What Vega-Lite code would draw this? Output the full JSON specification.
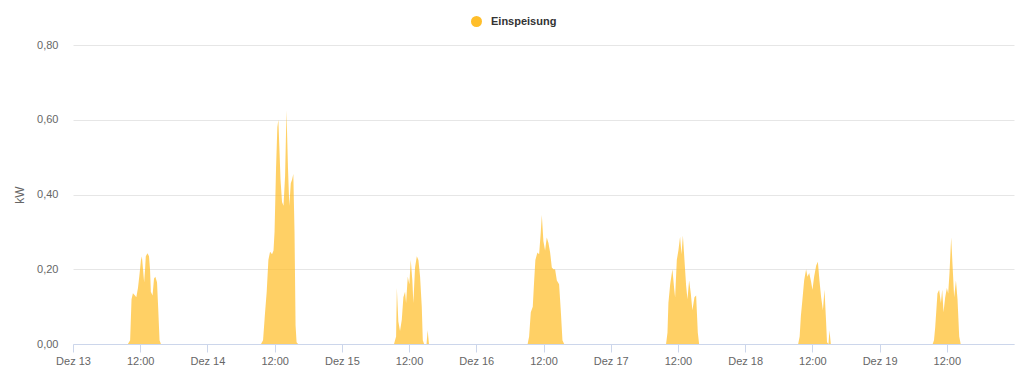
{
  "$schema": "https://vega.github.io/schema/vega-lite/v6.json",
  "width": 941,
  "height": 299,
  "autosize": {"type": "none"},
  "padding": {"left": 73, "top": 45, "right": 10, "bottom": 35},
  "background": "white",
  "config": {"view": {"stroke": null}, "font": "Liberation Sans"},
  "data": {"values": [
    {"t": "2019-12-13T00:00", "v": 0},
    {"t": "2019-12-13T09:48", "v": 0},
    {"t": "2019-12-13T10:12", "v": 0.01},
    {"t": "2019-12-13T10:27", "v": 0.12},
    {"t": "2019-12-13T10:42", "v": 0.136},
    {"t": "2019-12-13T11:04", "v": 0.13},
    {"t": "2019-12-13T11:18", "v": 0.125},
    {"t": "2019-12-13T11:36", "v": 0.15},
    {"t": "2019-12-13T11:54", "v": 0.19},
    {"t": "2019-12-13T12:08", "v": 0.225},
    {"t": "2019-12-13T12:18", "v": 0.234},
    {"t": "2019-12-13T12:30", "v": 0.2},
    {"t": "2019-12-13T12:42", "v": 0.165},
    {"t": "2019-12-13T12:52", "v": 0.2},
    {"t": "2019-12-13T13:00", "v": 0.235},
    {"t": "2019-12-13T13:18", "v": 0.243},
    {"t": "2019-12-13T13:34", "v": 0.235},
    {"t": "2019-12-13T13:45", "v": 0.2},
    {"t": "2019-12-13T13:54", "v": 0.14},
    {"t": "2019-12-13T14:12", "v": 0.13},
    {"t": "2019-12-13T14:28", "v": 0.175},
    {"t": "2019-12-13T14:42", "v": 0.18},
    {"t": "2019-12-13T15:00", "v": 0.165},
    {"t": "2019-12-13T15:12", "v": 0.1},
    {"t": "2019-12-13T15:27", "v": 0.01},
    {"t": "2019-12-13T15:42", "v": 0},
    {"t": "2019-12-14T09:34", "v": 0},
    {"t": "2019-12-14T09:56", "v": 0.01},
    {"t": "2019-12-14T10:17", "v": 0.083},
    {"t": "2019-12-14T10:35", "v": 0.14},
    {"t": "2019-12-14T10:53", "v": 0.225},
    {"t": "2019-12-14T11:11", "v": 0.247},
    {"t": "2019-12-14T11:32", "v": 0.24},
    {"t": "2019-12-14T11:48", "v": 0.25},
    {"t": "2019-12-14T11:59", "v": 0.3},
    {"t": "2019-12-14T12:15", "v": 0.47},
    {"t": "2019-12-14T12:29", "v": 0.58},
    {"t": "2019-12-14T12:40", "v": 0.6},
    {"t": "2019-12-14T12:50", "v": 0.53},
    {"t": "2019-12-14T13:03", "v": 0.44},
    {"t": "2019-12-14T13:19", "v": 0.38},
    {"t": "2019-12-14T13:35", "v": 0.37},
    {"t": "2019-12-14T13:52", "v": 0.45},
    {"t": "2019-12-14T14:07", "v": 0.625},
    {"t": "2019-12-14T14:23", "v": 0.47},
    {"t": "2019-12-14T14:37", "v": 0.37},
    {"t": "2019-12-14T14:53", "v": 0.43},
    {"t": "2019-12-14T15:07", "v": 0.44},
    {"t": "2019-12-14T15:20", "v": 0.455},
    {"t": "2019-12-14T15:33", "v": 0.3},
    {"t": "2019-12-14T15:44", "v": 0.05},
    {"t": "2019-12-14T15:55", "v": 0.005},
    {"t": "2019-12-14T16:11", "v": 0},
    {"t": "2019-12-15T09:19", "v": 0},
    {"t": "2019-12-15T09:41", "v": 0.02},
    {"t": "2019-12-15T09:49", "v": 0.15},
    {"t": "2019-12-15T10:05", "v": 0.06},
    {"t": "2019-12-15T10:23", "v": 0.035},
    {"t": "2019-12-15T10:42", "v": 0.065},
    {"t": "2019-12-15T10:59", "v": 0.125},
    {"t": "2019-12-15T11:17", "v": 0.14},
    {"t": "2019-12-15T11:28", "v": 0.11},
    {"t": "2019-12-15T11:46", "v": 0.18},
    {"t": "2019-12-15T12:03", "v": 0.16},
    {"t": "2019-12-15T12:18", "v": 0.225},
    {"t": "2019-12-15T12:35", "v": 0.17},
    {"t": "2019-12-15T12:46", "v": 0.11},
    {"t": "2019-12-15T13:04", "v": 0.205},
    {"t": "2019-12-15T13:23", "v": 0.235},
    {"t": "2019-12-15T13:40", "v": 0.225},
    {"t": "2019-12-15T13:58", "v": 0.18},
    {"t": "2019-12-15T14:16", "v": 0.1},
    {"t": "2019-12-15T14:27", "v": 0.01},
    {"t": "2019-12-15T14:41", "v": 0},
    {"t": "2019-12-15T15:07", "v": 0},
    {"t": "2019-12-15T15:19", "v": 0.037},
    {"t": "2019-12-15T15:33", "v": 0},
    {"t": "2019-12-16T09:10", "v": 0},
    {"t": "2019-12-16T09:26", "v": 0.02},
    {"t": "2019-12-16T09:44", "v": 0.085},
    {"t": "2019-12-16T10:05", "v": 0.1},
    {"t": "2019-12-16T10:19", "v": 0.165},
    {"t": "2019-12-16T10:33", "v": 0.225},
    {"t": "2019-12-16T10:55", "v": 0.245},
    {"t": "2019-12-16T11:13", "v": 0.24},
    {"t": "2019-12-16T11:31", "v": 0.3},
    {"t": "2019-12-16T11:42", "v": 0.345},
    {"t": "2019-12-16T11:59", "v": 0.275},
    {"t": "2019-12-16T12:17", "v": 0.25},
    {"t": "2019-12-16T12:35", "v": 0.285},
    {"t": "2019-12-16T12:53", "v": 0.27},
    {"t": "2019-12-16T13:11", "v": 0.245},
    {"t": "2019-12-16T13:29", "v": 0.205},
    {"t": "2019-12-16T13:46", "v": 0.2},
    {"t": "2019-12-16T14:04", "v": 0.2},
    {"t": "2019-12-16T14:23", "v": 0.17},
    {"t": "2019-12-16T14:47", "v": 0.16},
    {"t": "2019-12-16T15:05", "v": 0.09},
    {"t": "2019-12-16T15:23", "v": 0.01},
    {"t": "2019-12-16T15:41", "v": 0},
    {"t": "2019-12-17T09:53", "v": 0},
    {"t": "2019-12-17T10:08", "v": 0.03},
    {"t": "2019-12-17T10:18", "v": 0.11},
    {"t": "2019-12-17T10:37", "v": 0.16},
    {"t": "2019-12-17T11:01", "v": 0.2},
    {"t": "2019-12-17T11:19", "v": 0.15},
    {"t": "2019-12-17T11:30", "v": 0.125},
    {"t": "2019-12-17T11:48", "v": 0.225},
    {"t": "2019-12-17T12:05", "v": 0.25},
    {"t": "2019-12-17T12:23", "v": 0.287},
    {"t": "2019-12-17T12:38", "v": 0.24},
    {"t": "2019-12-17T12:53", "v": 0.29},
    {"t": "2019-12-17T13:10", "v": 0.225},
    {"t": "2019-12-17T13:28", "v": 0.155},
    {"t": "2019-12-17T13:42", "v": 0.12},
    {"t": "2019-12-17T14:00", "v": 0.17},
    {"t": "2019-12-17T14:18", "v": 0.135},
    {"t": "2019-12-17T14:35", "v": 0.09},
    {"t": "2019-12-17T14:57", "v": 0.125},
    {"t": "2019-12-17T15:15", "v": 0.13},
    {"t": "2019-12-17T15:33", "v": 0.03},
    {"t": "2019-12-17T15:47", "v": 0},
    {"t": "2019-12-18T09:28", "v": 0},
    {"t": "2019-12-18T09:44", "v": 0.02},
    {"t": "2019-12-18T09:57", "v": 0.075},
    {"t": "2019-12-18T10:14", "v": 0.12},
    {"t": "2019-12-18T10:32", "v": 0.17},
    {"t": "2019-12-18T10:53", "v": 0.2},
    {"t": "2019-12-18T11:08", "v": 0.18},
    {"t": "2019-12-18T11:26", "v": 0.19},
    {"t": "2019-12-18T11:44", "v": 0.17},
    {"t": "2019-12-18T12:01", "v": 0.145},
    {"t": "2019-12-18T12:19", "v": 0.18},
    {"t": "2019-12-18T12:41", "v": 0.21},
    {"t": "2019-12-18T12:59", "v": 0.22},
    {"t": "2019-12-18T13:16", "v": 0.17},
    {"t": "2019-12-18T13:34", "v": 0.125},
    {"t": "2019-12-18T13:53", "v": 0.09},
    {"t": "2019-12-18T14:10", "v": 0.145},
    {"t": "2019-12-18T14:25", "v": 0.07},
    {"t": "2019-12-18T14:37", "v": 0.005},
    {"t": "2019-12-18T14:53", "v": 0},
    {"t": "2019-12-18T15:03", "v": 0.037},
    {"t": "2019-12-18T15:18", "v": 0},
    {"t": "2019-12-19T09:29", "v": 0},
    {"t": "2019-12-19T09:43", "v": 0.01},
    {"t": "2019-12-19T09:56", "v": 0.045},
    {"t": "2019-12-19T10:20", "v": 0.135},
    {"t": "2019-12-19T10:38", "v": 0.145},
    {"t": "2019-12-19T10:57", "v": 0.11},
    {"t": "2019-12-19T11:11", "v": 0.145},
    {"t": "2019-12-19T11:25", "v": 0.085},
    {"t": "2019-12-19T11:43", "v": 0.125},
    {"t": "2019-12-19T12:01", "v": 0.15},
    {"t": "2019-12-19T12:15", "v": 0.135},
    {"t": "2019-12-19T12:29", "v": 0.19},
    {"t": "2019-12-19T12:47", "v": 0.285},
    {"t": "2019-12-19T13:01", "v": 0.215},
    {"t": "2019-12-19T13:19", "v": 0.125},
    {"t": "2019-12-19T13:38", "v": 0.17},
    {"t": "2019-12-19T13:55", "v": 0.12},
    {"t": "2019-12-19T14:13", "v": 0.02},
    {"t": "2019-12-19T14:29", "v": 0},
    {"t": "2019-12-20T00:00", "v": 0}
  ]},
  "mark": {"type": "area", "fillOpacity": 0.72, "interpolate": "linear"},
  "encoding": {
    "x": {
      "field": "t",
      "type": "temporal",
      "scale": {"domain": [{"year": 2019, "month": 12, "date": 13}, {"year": 2019, "month": 12, "date": 20}], "nice": false},
      "axis": {
        "title": null,
        "values": [
          {"year": 2019, "month": 12, "date": 13, "hours": 0},
          {"year": 2019, "month": 12, "date": 13, "hours": 12},
          {"year": 2019, "month": 12, "date": 14, "hours": 0},
          {"year": 2019, "month": 12, "date": 14, "hours": 12},
          {"year": 2019, "month": 12, "date": 15, "hours": 0},
          {"year": 2019, "month": 12, "date": 15, "hours": 12},
          {"year": 2019, "month": 12, "date": 16, "hours": 0},
          {"year": 2019, "month": 12, "date": 16, "hours": 12},
          {"year": 2019, "month": 12, "date": 17, "hours": 0},
          {"year": 2019, "month": 12, "date": 17, "hours": 12},
          {"year": 2019, "month": 12, "date": 18, "hours": 0},
          {"year": 2019, "month": 12, "date": 18, "hours": 12},
          {"year": 2019, "month": 12, "date": 19, "hours": 0},
          {"year": 2019, "month": 12, "date": 19, "hours": 12}
        ],
        "labelExpr": "hours(datum.value) == 0 ? 'Dez ' + date(datum.value) : '12:00'",
        "grid": false,
        "domainColor": "#ccd6eb",
        "tickColor": "#ccd6eb",
        "tickSize": 8,
        "labelColor": "#666666",
        "labelFontSize": 11,
        "labelPadding": 3,
        "labelFlush": false,
        "labelOverlap": false
      }
    },
    "y": {
      "field": "v",
      "type": "quantitative",
      "scale": {"domain": [0, 0.8], "nice": false},
      "axis": {
        "title": "kW",
        "values": [0, 0.2, 0.4, 0.6, 0.8],
        "labelExpr": "replace(format(datum.value, '.2f'), '.', ',')",
        "domain": false,
        "ticks": false,
        "gridColor": "#e6e6e6",
        "labelColor": "#666666",
        "labelFontSize": 11,
        "labelPadding": 15,
        "titleColor": "#666666",
        "titleFontSize": 12,
        "titleFontWeight": "normal",
        "titlePadding": 10
      }
    },
    "color": {
      "datum": "Einspeisung",
      "scale": {"range": ["#ffbe2a"]},
      "legend": {
        "title": null,
        "orient": "none",
        "legendX": 398,
        "legendY": -29,
        "symbolType": "circle",
        "symbolSize": 121,
        "symbolOpacity": 1,
        "symbolStrokeWidth": 0,
        "labelFontSize": 11,
        "labelFontWeight": "bold",
        "labelColor": "#333333",
        "labelOffset": 9,
        "padding": 0
      }
    }
  }
}
